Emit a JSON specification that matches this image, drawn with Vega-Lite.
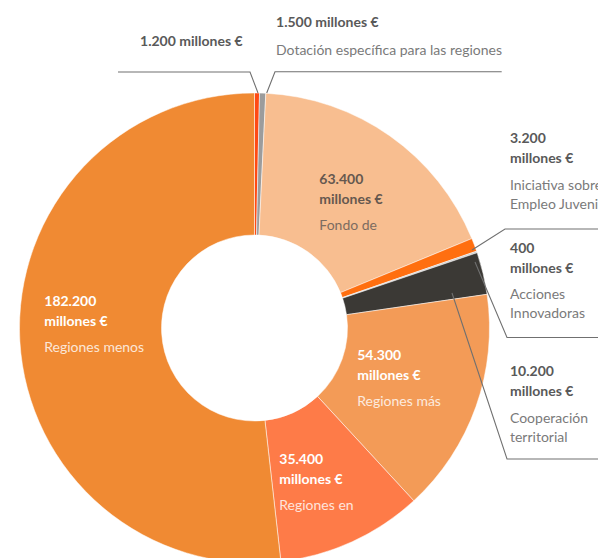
{
  "$schema": "https://vega.github.io/schema/vega-lite/v6.json",
  "width": 509,
  "height": 460,
  "autosize": {"type": "none"},
  "padding": {"left": 0, "top": 98, "right": 89, "bottom": 0},
  "background": "#ffffff",
  "config": {"view": {"stroke": null}, "text": {"font": "Lato"}},
  "datasets": {
    "slices": [
      {"order": 1, "name": "Asistencia técnica", "value": 1200, "bold": "1.200 millones €", "desc": ""},
      {"order": 2, "name": "Dotación específica para las regiones", "value": 1500, "bold": "1.500 millones €", "desc": "Dotación específica para las regiones"},
      {"order": 3, "name": "Fondo de Cohesión", "value": 63400, "bold": "63.400\nmillones €", "desc": "Fondo de"},
      {"order": 4, "name": "Iniciativa sobre Empleo Juvenil", "value": 3200, "bold": "3.200\nmillones €", "desc": "Iniciativa sobre\nEmpleo Juvenil"},
      {"order": 5, "name": "Acciones Innovadoras", "value": 400, "bold": "400\nmillones €", "desc": "Acciones\nInnovadoras"},
      {"order": 6, "name": "Cooperación territorial", "value": 10200, "bold": "10.200\nmillones €", "desc": "Cooperación\nterritorial"},
      {"order": 7, "name": "Regiones más desarrolladas", "value": 54300, "bold": "54.300\nmillones €", "desc": "Regiones más"},
      {"order": 8, "name": "Regiones en transición", "value": 35400, "bold": "35.400\nmillones €", "desc": "Regiones en"},
      {"order": 9, "name": "Regiones menos desarrolladas", "value": 182200, "bold": "182.200\nmillones €", "desc": "Regiones menos"}
    ],
    "leaders": [
      {"leader": "a", "i": 1, "u": -58.09, "v": 108.94},
      {"leader": "a", "i": 2, "u": -1.91, "v": 108.94},
      {"leader": "a", "i": 3, "u": 1.49, "v": 100.0},
      {"leader": "b", "i": 1, "u": 5.19, "v": 100.0},
      {"leader": "b", "i": 2, "u": 8.72, "v": 109.06},
      {"leader": "b", "i": 3, "u": 105.19, "v": 109.06},
      {"leader": "c", "i": 1, "u": 92.55, "v": 33.19},
      {"leader": "c", "i": 2, "u": 106.6, "v": 42.13},
      {"leader": "c", "i": 3, "u": 147, "v": 42.13},
      {"leader": "d", "i": 1, "u": 93.83, "v": 28.09},
      {"leader": "d", "i": 2, "u": 107.45, "v": -4.04},
      {"leader": "d", "i": 3, "u": 147, "v": -4.04},
      {"leader": "e", "i": 1, "u": 84.04, "v": 14.89},
      {"leader": "e", "i": 2, "u": 107.45, "v": -55.74},
      {"leader": "e", "i": 3, "u": 147, "v": -55.74}
    ]
  },
  "data": {"name": "slices"},
  "layer": [
    {
      "encoding": {
        "theta": {"field": "value", "type": "quantitative", "stack": true},
        "order": {"field": "order", "type": "quantitative"}
      },
      "layer": [
        {
          "mark": {"type": "arc", "innerRadius": 93, "outerRadius": 235, "stroke": "#ffffff", "strokeWidth": 0.5},
          "encoding": {
            "color": {
              "field": "name", "type": "nominal", "legend": null,
              "scale": {
                "domain": ["Asistencia técnica", "Dotación específica para las regiones", "Fondo de Cohesión", "Iniciativa sobre Empleo Juvenil", "Acciones Innovadoras", "Cooperación territorial", "Regiones más desarrolladas", "Regiones en transición", "Regiones menos desarrolladas"],
                "range": ["#ff4a14", "#9c9c9c", "#f8be90", "#ff6f10", "#cbcbcb", "#3b3935", "#f39b57", "#fe7b48", "#f08a33"]
              }
            }
          }
        },
        {"mark": {"type": "text", "radius": 245, "align": "left", "baseline": "alphabetic", "dx": -117.1, "dy": -37.5, "fontSize": 14, "fontWeight": "bold", "lineBreak": "\n", "lineHeight": 20, "color": "#595959"},
         "encoding": {"text": {"condition": {"test": "datum.order === 1", "field": "bold"}, "value": ""}}},
        {"mark": {"type": "text", "radius": 245, "align": "left", "baseline": "alphabetic", "dx": 13, "dy": -56.6, "fontSize": 14, "fontWeight": "bold", "lineBreak": "\n", "lineHeight": 20, "color": "#595959"},
         "encoding": {"text": {"condition": {"test": "datum.order === 2", "field": "bold"}, "value": ""}}},
        {"mark": {"type": "text", "radius": 245, "align": "left", "baseline": "alphabetic", "dx": 13, "dy": -28.6, "fontSize": 14, "lineBreak": "\n", "lineHeight": 19, "color": "#7a7a7a"},
         "encoding": {"text": {"condition": {"test": "datum.order === 2", "field": "desc"}, "value": ""}}},
        {"mark": {"type": "text", "radius": 164, "align": "left", "baseline": "alphabetic", "dx": -29.7, "dy": -10, "fontSize": 14, "fontWeight": "bold", "lineBreak": "\n", "lineHeight": 20, "color": "#66584f"},
         "encoding": {"text": {"condition": {"test": "datum.order === 3", "field": "bold"}, "value": ""}}},
        {"mark": {"type": "text", "radius": 164, "align": "left", "baseline": "alphabetic", "dx": -29.7, "dy": 36, "fontSize": 14, "lineBreak": "\n", "lineHeight": 19, "color": "#7d6c60"},
         "encoding": {"text": {"condition": {"test": "datum.order === 3", "field": "desc"}, "value": ""}}},
        {"mark": {"type": "text", "radius": 245, "align": "left", "baseline": "alphabetic", "dx": 26.3, "dy": -98, "fontSize": 14, "fontWeight": "bold", "lineBreak": "\n", "lineHeight": 20, "color": "#595959"},
         "encoding": {"text": {"condition": {"test": "datum.order === 4", "field": "bold"}, "value": ""}}},
        {"mark": {"type": "text", "radius": 245, "align": "left", "baseline": "alphabetic", "dx": 26.3, "dy": -51.3, "fontSize": 14, "lineBreak": "\n", "lineHeight": 19, "color": "#7a7a7a"},
         "encoding": {"text": {"condition": {"test": "datum.order === 4", "field": "desc"}, "value": ""}}},
        {"mark": {"type": "text", "radius": 245, "align": "left", "baseline": "alphabetic", "dx": 23.7, "dy": 4, "fontSize": 14, "fontWeight": "bold", "lineBreak": "\n", "lineHeight": 20, "color": "#595959"},
         "encoding": {"text": {"condition": {"test": "datum.order === 5", "field": "bold"}, "value": ""}}},
        {"mark": {"type": "text", "radius": 245, "align": "left", "baseline": "alphabetic", "dx": 23.7, "dy": 49.8, "fontSize": 14, "lineBreak": "\n", "lineHeight": 19, "color": "#7a7a7a"},
         "encoding": {"text": {"condition": {"test": "datum.order === 5", "field": "desc"}, "value": ""}}},
        {"mark": {"type": "text", "radius": 245, "align": "left", "baseline": "alphabetic", "dx": 17.2, "dy": 105, "fontSize": 14, "fontWeight": "bold", "lineBreak": "\n", "lineHeight": 20, "color": "#595959"},
         "encoding": {"text": {"condition": {"test": "datum.order === 6", "field": "bold"}, "value": ""}}},
        {"mark": {"type": "text", "radius": 245, "align": "left", "baseline": "alphabetic", "dx": 17.2, "dy": 151.7, "fontSize": 14, "lineBreak": "\n", "lineHeight": 19, "color": "#7a7a7a"},
         "encoding": {"text": {"condition": {"test": "datum.order === 6", "field": "desc"}, "value": ""}}},
        {"mark": {"type": "text", "radius": 164, "align": "left", "baseline": "alphabetic", "dx": -51.8, "dy": -22.9, "fontSize": 14, "fontWeight": "bold", "lineBreak": "\n", "lineHeight": 20, "color": "#ffffff"},
         "encoding": {"text": {"condition": {"test": "datum.order === 7", "field": "bold"}, "value": ""}}},
        {"mark": {"type": "text", "radius": 164, "align": "left", "baseline": "alphabetic", "dx": -51.8, "dy": 23.1, "fontSize": 14, "lineBreak": "\n", "lineHeight": 19, "color": "#ffffff", "opacity": 0.8},
         "encoding": {"text": {"condition": {"test": "datum.order === 7", "field": "desc"}, "value": ""}}},
        {"mark": {"type": "text", "radius": 164, "align": "left", "baseline": "alphabetic", "dx": -43.4, "dy": -12.9, "fontSize": 14, "fontWeight": "bold", "lineBreak": "\n", "lineHeight": 20, "color": "#ffffff"},
         "encoding": {"text": {"condition": {"test": "datum.order === 8", "field": "bold"}, "value": ""}}},
        {"mark": {"type": "text", "radius": 164, "align": "left", "baseline": "alphabetic", "dx": -43.4, "dy": 32.8, "fontSize": 14, "lineBreak": "\n", "lineHeight": 19, "color": "#ffffff", "opacity": 0.8},
         "encoding": {"text": {"condition": {"test": "datum.order === 8", "field": "desc"}, "value": ""}}},
        {"mark": {"type": "text", "radius": 164, "align": "left", "baseline": "alphabetic", "dx": -46.5, "dy": -31.2, "fontSize": 14, "fontWeight": "bold", "lineBreak": "\n", "lineHeight": 20, "color": "#ffffff"},
         "encoding": {"text": {"condition": {"test": "datum.order === 9", "field": "bold"}, "value": ""}}},
        {"mark": {"type": "text", "radius": 164, "align": "left", "baseline": "alphabetic", "dx": -46.5, "dy": 14.3, "fontSize": 14, "lineBreak": "\n", "lineHeight": 19, "color": "#ffffff", "opacity": 0.8},
         "encoding": {"text": {"condition": {"test": "datum.order === 9", "field": "desc"}, "value": ""}}}
      ]
    },
    {
      "data": {"name": "leaders"},
      "mark": {"type": "line", "color": "#707070", "strokeWidth": 1.1},
      "encoding": {
        "x": {"field": "u", "type": "quantitative", "scale": {"domain": [-108.3, 108.3], "nice": false, "zero": false}, "axis": null},
        "y": {"field": "v", "type": "quantitative", "scale": {"domain": [-97.87, 97.87], "nice": false, "zero": false}, "axis": null},
        "detail": {"field": "leader", "type": "nominal"},
        "order": {"field": "i", "type": "quantitative"}
      }
    }
  ]
}
